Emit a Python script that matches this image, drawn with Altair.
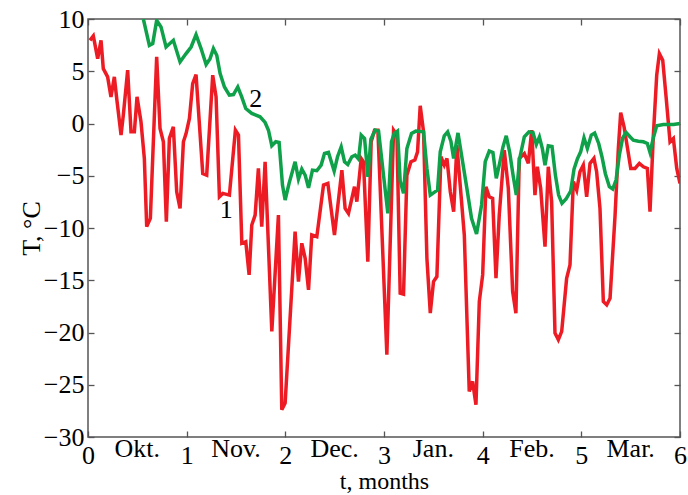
import altair as alt
import pandas as pd

# ---- data (t in months, T in deg C) ----
red_t = [0.020, 0.054, 0.098, 0.132, 0.155, 0.199, 0.233, 0.267, 0.291, 0.335,
         0.358, 0.402, 0.436, 0.470, 0.497, 0.537, 0.571, 0.595, 0.632, 0.696,
         0.730, 0.764, 0.794, 0.825, 0.865, 0.899, 0.933, 0.967, 0.994, 1.028,
         1.061, 1.095, 1.163, 1.203, 1.264, 1.298, 1.332, 1.366, 1.433, 1.494,
         1.525, 1.559, 1.599, 1.633, 1.660, 1.694, 1.727, 1.761, 1.795, 1.863,
         1.930, 1.964, 1.998, 2.099, 2.133, 2.167, 2.201, 2.235, 2.268, 2.319,
         2.387, 2.431, 2.498, 2.573, 2.606, 2.640, 2.701, 2.725, 2.769, 2.792,
         2.836, 2.870, 2.904, 2.938, 3.029, 3.097, 3.131, 3.164, 3.198, 3.232,
         3.273, 3.313, 3.340, 3.367, 3.401, 3.435, 3.469, 3.502, 3.536, 3.577,
         3.611, 3.638, 3.672, 3.706, 3.739, 3.814, 3.864, 3.898, 3.932, 3.966,
         4.000, 4.033, 4.067, 4.101, 4.135, 4.168, 4.219, 4.260, 4.304, 4.337,
         4.371, 4.422, 4.463, 4.497, 4.530, 4.554, 4.588, 4.632, 4.665, 4.699,
         4.733, 4.767, 4.801, 4.851, 4.885, 4.919, 4.953, 4.986, 5.020, 5.054,
         5.088, 5.128, 5.155, 5.189, 5.223, 5.257, 5.291, 5.342, 5.375, 5.399,
         5.433, 5.501, 5.544, 5.588, 5.629, 5.669, 5.696, 5.730, 5.764, 5.791,
         5.825, 5.859, 5.899, 5.933, 5.967, 6.000]
red_T = [7.96, 8.38, 6.21, 7.96, 5.25, 4.46, 2.55, 4.46, 2.39, -1.11,
         0.80, 5.10, -0.80, -0.80, 2.55, 0.16, -3.34, -9.87, -9.08, 6.37,
         -0.48, -1.75, -9.39, -1.43, -0.32, -6.53, -8.12, -1.75, -0.96, 0.48,
         3.82, 4.68, -4.78, -4.94, 4.62, 2.55, -7.01, -6.69, -6.85, -0.64,
         -1.11, -11.46, -11.31, -14.49, -9.71, -8.76, -4.30, -9.87, -3.66, -19.90,
         -8.76, -27.39, -26.75, -10.35, -15.13, -11.46, -12.90, -15.92, -10.67, -10.83,
         -5.89, -5.73, -10.67, -4.46, -8.12, -8.60, -6.05, -7.48, -3.34, -3.66,
         -13.22, -1.75, -0.64, -0.64, -22.13, -0.64, -1.11, -16.24, -16.34, -4.94,
         -3.66, -3.50, -2.71, 1.69, -0.80, -12.90, -18.15, -15.13, -14.65, -3.18,
         -3.98, -3.34, -6.53, -8.44, -2.07, -10.67, -25.64, -24.68, -26.91, -17.04,
         -14.49, -6.05, -7.01, -7.17, -14.81, -8.76, -2.55, -6.21, -16.08, -18.15,
         -3.34, -2.87, -3.82, -0.64, -6.85, -4.14, -6.21, -11.78, -4.14, -7.48,
         -20.06, -20.70, -19.90, -14.81, -13.54, -5.57, -6.37, -4.62, -3.98, -7.01,
         -3.82, -3.34, -4.62, -8.12, -17.04, -17.36, -16.72, -8.76, -2.39, 1.05,
         -0.32, -4.30, -4.30, -3.82, -4.14, -4.30, -8.44, -1.11, 4.62, 6.69,
         6.05, 2.55, -1.75, -1.43, -4.30, -5.73]

green_t = [0.561, 0.622, 0.656, 0.696, 0.740, 0.791, 0.865, 0.933, 0.994, 1.045,
           1.095, 1.146, 1.197, 1.237, 1.271, 1.305, 1.339, 1.383, 1.433, 1.474,
           1.518, 1.558, 1.599, 1.660, 1.744, 1.795, 1.829, 1.863, 1.903, 1.937,
           1.971, 1.998, 2.038, 2.099, 2.133, 2.167, 2.201, 2.235, 2.275, 2.319,
           2.363, 2.397, 2.437, 2.495, 2.529, 2.566, 2.600, 2.633, 2.674, 2.708,
           2.742, 2.769, 2.803, 2.837, 2.867, 2.911, 2.945, 2.995, 3.039, 3.076,
           3.103, 3.137, 3.164, 3.198, 3.232, 3.279, 3.323, 3.401, 3.435, 3.469,
           3.509, 3.543, 3.570, 3.611, 3.645, 3.678, 3.706, 3.750, 3.840, 3.887,
           3.938, 3.989, 4.026, 4.067, 4.104, 4.138, 4.172, 4.206, 4.239, 4.273,
           4.307, 4.341, 4.375, 4.422, 4.469, 4.510, 4.544, 4.575, 4.605, 4.632,
           4.665, 4.703, 4.737, 4.770, 4.804, 4.845, 4.892, 4.926, 4.959, 4.993,
           5.027, 5.061, 5.101, 5.135, 5.176, 5.209, 5.243, 5.284, 5.318, 5.352,
           5.385, 5.419, 5.453, 5.493, 5.527, 5.578, 5.629, 5.669, 5.696, 5.730,
           5.764, 5.831, 5.933, 6.000]
green_T = [10.0, 7.48, 7.64, 9.87, 9.24, 7.32, 7.96, 5.89, 6.69, 7.32,
           8.50, 7.17, 5.64, 6.21, 7.17, 6.53, 4.78, 3.50, 2.71, 2.77,
           3.50, 2.55, 1.43, 0.96, 0.64, 0.10, -0.64, -2.13, -1.75, -1.82,
           -5.89, -7.32, -5.73, -3.66, -5.32, -4.36, -4.94, -6.15, -4.46, -4.52,
           -3.98, -2.87, -2.77, -4.55, -3.18, -2.23, -3.66, -3.92, -3.18, -3.03,
           -3.41, -1.11, -1.43, -5.10, -1.50, -0.64, -0.73, -4.94, -8.60, -1.75,
           -0.96, -0.73, -5.51, -6.69, -2.39, -0.96, -0.73, -0.80, -4.30, -6.85,
           -6.59, -6.37, -2.71, -1.18, -0.80, -1.69, -3.34, -0.90, -6.21, -9.08,
           -10.57, -7.80, -3.66, -2.64, -2.77, -5.25, -3.82, -2.23, -1.18, -2.71,
           -4.87, -6.85, -3.34, -1.27, -0.80, -0.86, -2.00, -1.30, -2.40, -4.00,
           -2.13, -2.20, -4.94, -6.85, -7.64, -7.23, -6.46, -4.36, -3.41, -2.71,
           -1.37, -2.39, -1.11, -0.92, -1.91, -3.18, -4.78, -6.05, -6.27, -5.41,
           -3.03, -1.37, -0.86, -1.27, -1.59, -1.69, -1.75, -1.91, -2.77, -1.37,
           -0.22, -0.10, -0.10, 0.00]

x_ticks = [0, 1, 2, 3, 4, 5, 6]
y_ticks = [-30, -25, -20, -15, -10, -5, 0, 5, 10]
months = ["Okt.", "Nov.", "Dec.", "Jan.", "Feb.", "Mar."]
month_pos = [0.5, 1.5, 2.5, 3.5, 4.5, 5.5]
curve_labels = ["1", "2"]
curve_label_t = [1.40, 1.70]
curve_label_T = [-8.3, 2.3]

RED = "#ED1C24"
GREEN = "#0FA04A"
FRAME = "#555555"
FONT = "Liberation Serif"
FS = 26

df_red = pd.DataFrame({"t": red_t, "T": red_T})
df_green = pd.DataFrame({"t": green_t, "T": green_T})
df_months = pd.DataFrame({"t": month_pos, "name": months, "T": [-30] * len(months)})
df_lab = pd.DataFrame({"t": curve_label_t, "T": curve_label_T, "txt": curve_labels})

xs = alt.Scale(domain=[0, 6], nice=False, zero=False)
ys = alt.Scale(domain=[-30, 10], nice=False, zero=False)

common = dict(domain=False, grid=False, ticks=True, tickSize=6, tickColor=FRAME,
              tickWidth=1.3, offset=-6, labelFont=FONT, labelFontSize=FS,
              labelColor="black", titleFont=FONT,
              titleFontWeight="normal", titleColor="black",
              labelOverlap=False, labelFlush=False)

red = alt.Chart(df_red).mark_line(color=RED, strokeWidth=3.5, clip=True).encode(
    x=alt.X("t:Q", scale=xs, axis=alt.Axis(orient="bottom", values=x_ticks, format="d",
                                            labelPadding=5, title="t, months",
                                            titleFontSize=24, titlePadding=1, **common)),
    y=alt.Y("T:Q", scale=ys, axis=alt.Axis(orient="left", values=y_ticks,
                                            labelExpr="replace(datum.label, '-', '\u2212')",
                                            labelPadding=4, title="T, \u00b0C",
                                            titleFontSize=FS, titlePadding=-1, **common)),
)

green = alt.Chart(df_green).mark_line(color=GREEN, strokeWidth=3.5, clip=True).encode(
    x=alt.X("t:Q", scale=xs, axis=alt.Axis(orient="top", values=x_ticks, labels=False,
                                            title=None, **common)),
    y=alt.Y("T:Q", scale=ys, axis=alt.Axis(orient="right", values=y_ticks, labels=False,
                                            title=None, **common)),
)

month_text = alt.Chart(df_months).mark_text(font=FONT, fontSize=FS, baseline="middle",
                                             dy=12, color="black").encode(
    x=alt.X("t:Q", scale=xs, axis=None),
    y=alt.Y("T:Q", scale=ys, axis=None),
    text="name:N",
)

curve_text = alt.Chart(df_lab).mark_text(font=FONT, fontSize=FS, baseline="middle",
                                          color="black").encode(
    x=alt.X("t:Q", scale=xs, axis=None),
    y=alt.Y("T:Q", scale=ys, axis=None),
    text="txt:N",
)

chart = alt.layer(red, green, month_text, curve_text).resolve_axis(
    x="independent", y="independent"
).properties(
    width=592, height=418,
    autosize=alt.AutoSizeParams(type="none"),
    padding={"left": 88, "top": 19, "right": 8, "bottom": 58},
    background="white",
).configure_view(stroke=FRAME, strokeWidth=1.5)

chart.save("out.html", embed_options={"renderer": "svg", "actions": False})
